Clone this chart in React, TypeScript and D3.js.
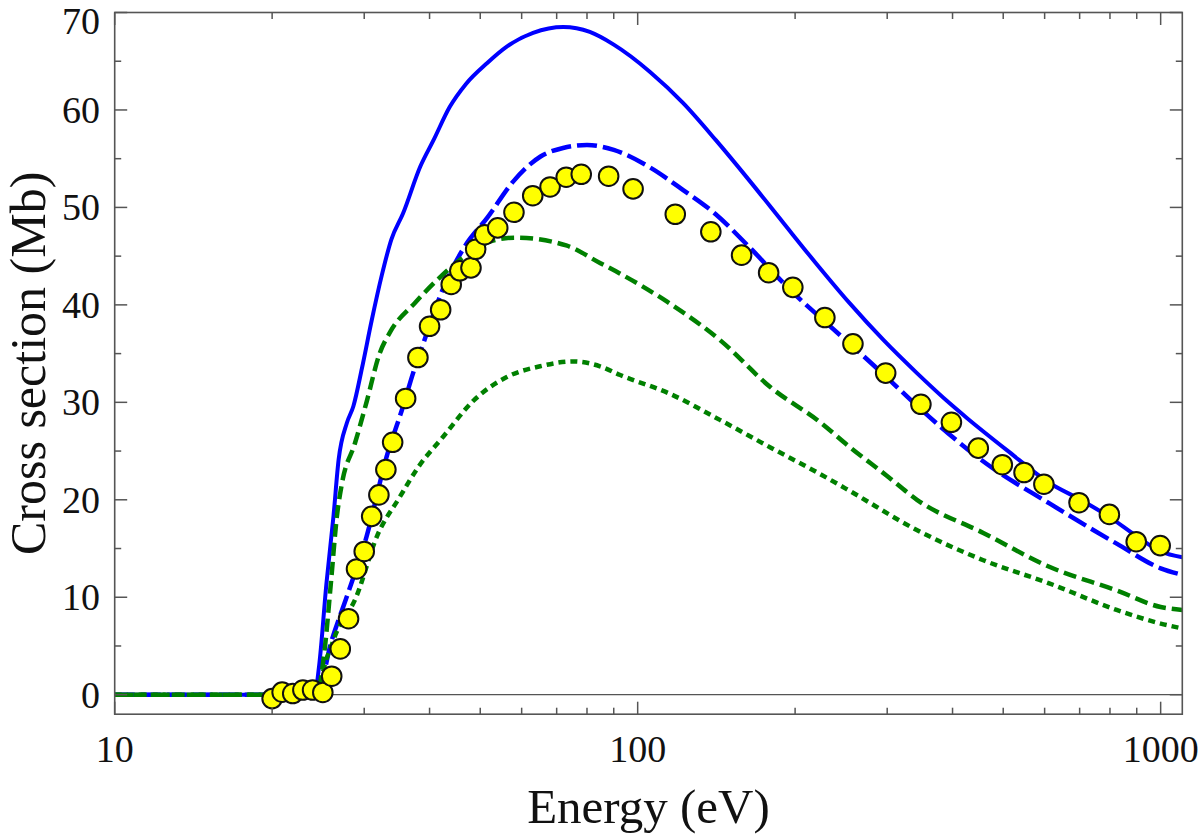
import { useEffect, useRef } from "react";
import * as d3 from "d3";

// experiment (yellow circles)
const expEnergy = [20, 20.9, 21.9, 22.9, 23.9, 25, 26, 27, 28, 29, 30, 31, 32, 33, 34, 36, 38, 40, 42, 44, 45.7, 48, 49, 51, 54, 58, 63, 68, 73, 78, 88, 98, 118, 138, 158, 178, 198, 228, 258, 298, 348, 398, 448, 498, 548, 598, 698, 798, 898, 998];
const expSigma = [-0.4, 0.26, 0.12, 0.48, 0.48, 0.23, 1.9, 4.7, 7.8, 12.9, 14.7, 18.3, 20.5, 23.1, 25.9, 30.4, 34.6, 37.8, 39.5, 42.1, 43.5, 43.8, 45.7, 47.2, 47.9, 49.5, 51.2, 52.1, 53.1, 53.4, 53.2, 51.9, 49.3, 47.5, 45.1, 43.3, 41.8, 38.7, 36.0, 33.0, 29.8, 27.95, 25.3, 23.6, 22.8, 21.6, 19.7, 18.5, 15.7, 15.3];

// blue solid
const blueSolidEnergy = [10, 24.1, 24.6, 25.4, 26.2, 26.8, 27.8, 28.6, 29.7, 31.0, 32.4, 33.8, 35.6, 38.4, 40.7, 43.7, 47.0, 51.5, 56.2, 63.1, 72.1, 81.0, 90, 105.6, 122.2, 141.1, 163.3, 190, 219, 254, 295, 342, 395, 426, 508, 614, 703, 800, 898, 1000, 1100];
const blueSolidSigma = [0, 0, 3.0, 11.4, 18.3, 24.1, 27.9, 29.6, 33.5, 38.4, 43.0, 46.7, 49.4, 54.2, 56.9, 60.3, 62.7, 64.8, 66.5, 67.9, 68.5, 68.0, 66.7, 63.9, 60.7, 56.9, 52.8, 48.4, 44.3, 40.2, 36.4, 33.0, 29.9, 28.4, 25.1, 21.7, 20.0, 18.2, 16.3, 14.7, 14.1];

// blue long dash
const blueDashEnergy = [10, 24.3, 26.0, 27.8, 30.3, 33.1, 35.6, 37.2, 39.0, 42.4, 46.7, 51.5, 57.9, 65.1, 72.0, 80.0, 90.0, 105.6, 122, 141, 163, 198.6, 230, 262, 303, 346, 464.5, 614, 824, 1000, 1100];
const blueDashSigma = [0, 0, 5.6, 10.1, 16.2, 24.4, 29.6, 33.0, 36.2, 41.6, 46.0, 48.9, 52.7, 55.2, 56.1, 56.4, 55.9, 54.1, 51.8, 49.3, 46.0, 41.2, 38.1, 35.4, 32.3, 29.4, 23.7, 19.6, 15.5, 12.97, 12.3];

// green dashed
const greenDashEnergy = [10, 24.3, 25.2, 25.9, 26.6, 27.2, 28.8, 30.3, 32.1, 33.7, 37.5, 42.2, 46.7, 52.9, 58.5, 73, 84.7, 92.6, 114, 143.6, 179, 224, 254.6, 299, 342, 458, 614, 824, 1000, 1100];
const greenDashSigma = [0, 0, 4.6, 11.4, 18.3, 21.7, 25.8, 30.0, 35.0, 37.3, 40.2, 43.0, 45.0, 46.6, 46.9, 46.1, 44.3, 43.2, 40.3, 36.4, 31.6, 27.9, 25.4, 22.5, 20.0, 16.6, 13.1, 10.7, 9.0, 8.7];

// green short dash
const greenDotEnergy = [10, 24.6, 24.8, 26.2, 29.0, 31.7, 35.1, 38.0, 42.5, 48.6, 56.2, 65.1, 75.2, 84.7, 92.6, 115, 143.6, 179, 224, 254.6, 341.7, 458, 614, 824, 1000, 1100];
const greenDotSigma = [0, 0, 1.2, 5.6, 10.1, 16.2, 20.3, 23.3, 26.5, 30.2, 32.6, 33.7, 34.2, 33.7, 32.8, 30.9, 28.2, 25.4, 22.6, 20.9, 16.9, 13.8, 11.4, 8.7, 7.3, 6.8];

const xMajorTicks = [10, 100, 1000];
const xMinorTicks = [20, 30, 40, 50, 60, 70, 80, 90, 200, 300, 400, 500, 600, 700, 800, 900];
const yMajorTicks = [0, 10, 20, 30, 40, 50, 60, 70];
const yMinorTicks = [5, 15, 25, 35, 45, 55, 65];

const W = 1200;
const H = 836;
const FONT = "'Liberation Serif', 'Times New Roman', serif";

export default function App() {
  const svgRef = useRef<SVGSVGElement>(null);

  useEffect(() => {
    if (!svgRef.current) return;
    const svg = d3.select(svgRef.current);
    svg.selectAll("*").remove();

    const left = 114.7;
    const right = 1182.3;
    const top = 12.5;
    const bottom = 714.2;

    const x = d3.scaleLog().domain([10, 1100]).range([left, right]);
    const y = d3.scaleLinear().domain([-2, 70]).range([bottom, top]);

    svg.append("rect").attr("width", W).attr("height", H).attr("fill", "#fff");

    svg
      .append("defs")
      .append("clipPath")
      .attr("id", "plot-clip")
      .append("rect")
      .attr("x", left)
      .attr("y", top)
      .attr("width", right - left)
      .attr("height", bottom - top);

    // zero line
    svg
      .append("line")
      .attr("x1", left)
      .attr("x2", right)
      .attr("y1", y(0))
      .attr("y2", y(0))
      .attr("stroke", "#555")
      .attr("stroke-width", 1.2);

    const plot = svg.append("g").attr("clip-path", "url(#plot-clip)");

    const line = d3
      .line<[number, number]>()
      .x((d) => x(d[0]))
      .y((d) => y(d[1]))
      .curve(d3.curveMonotoneX);

    const series = [
      { e: blueSolidEnergy, s: blueSolidSigma, color: "#0000ff", dash: null, w: 4 },
      { e: blueDashEnergy, s: blueDashSigma, color: "#0000ff", dash: "20,6", w: 4.5 },
      { e: greenDashEnergy, s: greenDashSigma, color: "#008000", dash: "13,6", w: 4.5 },
      { e: greenDotEnergy, s: greenDotSigma, color: "#008000", dash: "7,5", w: 4.5 },
    ];

    series.forEach((sr) => {
      const pts = sr.e.map((e, i) => [e, sr.s[i]] as [number, number]);
      const p = plot
        .append("path")
        .attr("d", line(pts))
        .attr("fill", "none")
        .attr("stroke", sr.color)
        .attr("stroke-width", sr.w)
        .attr("stroke-linejoin", "round");
      if (sr.dash) p.attr("stroke-dasharray", sr.dash);
    });

    plot
      .selectAll("circle.exp")
      .data(expEnergy.map((e, i) => [e, expSigma[i]]))
      .join("circle")
      .attr("class", "exp")
      .attr("cx", (d) => x(d[0]))
      .attr("cy", (d) => y(d[1]))
      .attr("r", 9.8)
      .attr("fill", "#ffff00")
      .attr("stroke", "#111")
      .attr("stroke-width", 2);

    // frame
    svg
      .append("rect")
      .attr("x", left)
      .attr("y", top)
      .attr("width", right - left)
      .attr("height", bottom - top)
      .attr("fill", "none")
      .attr("stroke", "#555")
      .attr("stroke-width", 1.6);

    const ticks = svg.append("g").attr("stroke", "#555").attr("stroke-width", 1.5);
    const majorLen = 12.5;
    const minorLen = 6.5;

    const xTick = (v: number, len: number) => {
      ticks.append("line").attr("x1", x(v)).attr("x2", x(v)).attr("y1", bottom).attr("y2", bottom - len);
      ticks.append("line").attr("x1", x(v)).attr("x2", x(v)).attr("y1", top).attr("y2", top + len);
    };
    const yTick = (v: number, len: number) => {
      ticks.append("line").attr("x1", left).attr("x2", left + len).attr("y1", y(v)).attr("y2", y(v));
      ticks.append("line").attr("x1", right).attr("x2", right - len).attr("y1", y(v)).attr("y2", y(v));
    };
    xMajorTicks.forEach((v) => xTick(v, majorLen));
    xMinorTicks.forEach((v) => xTick(v, minorLen));
    yMajorTicks.forEach((v) => yTick(v, majorLen));
    yMinorTicks.forEach((v) => yTick(v, minorLen));

    const labels = svg.append("g").style("font-family", FONT).attr("fill", "#111");

    xMajorTicks.forEach((v) => {
      labels
        .append("text")
        .attr("x", x(v))
        .attr("y", 762)
        .attr("text-anchor", "middle")
        .style("font-size", "38px")
        .text(String(v));
    });

    yMajorTicks.forEach((v) => {
      labels
        .append("text")
        .attr("x", 100)
        .attr("y", Math.max(y(v) + 13, 34))
        .attr("text-anchor", "end")
        .style("font-size", "38px")
        .text(String(v));
    });

    labels
      .append("text")
      .attr("x", (left + right) / 2)
      .attr("y", 823)
      .attr("text-anchor", "middle")
      .style("font-size", "49px")
      .text("Energy (eV)");

    labels
      .append("text")
      .attr("transform", `translate(45, ${(top + bottom) / 2}) rotate(-90)`)
      .attr("text-anchor", "middle")
      .style("font-size", "50px")
      .text("Cross section (Mb)");
  }, []);

  return (
    <svg
      ref={svgRef}
      width={W}
      height={H}
      viewBox={`0 0 ${W} ${H}`}
      style={{ position: "absolute", left: 0, top: 0, display: "block" }}
    />
  );
}
